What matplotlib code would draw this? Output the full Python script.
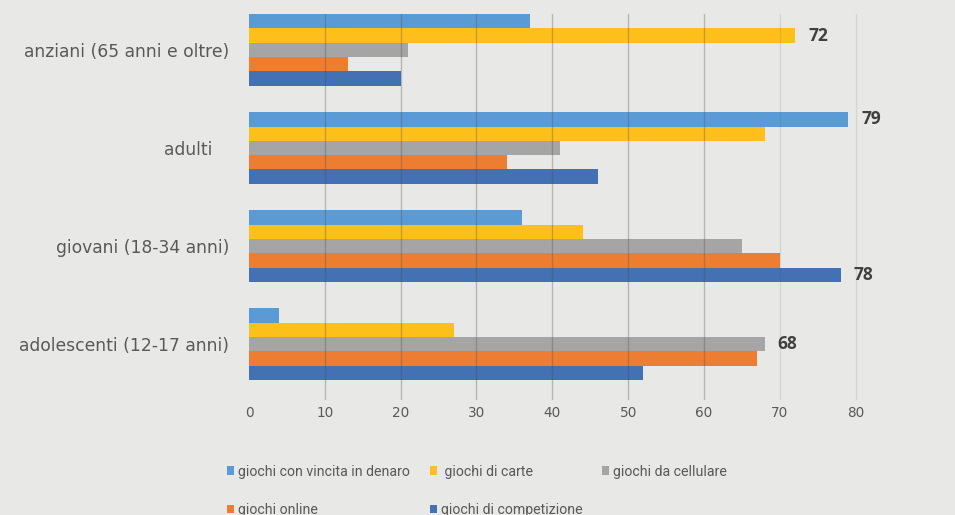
import numpy as np
import matplotlib
matplotlib.use("Agg")
import matplotlib.pyplot as plt

# categories, bottom to top
categories = ["adolescenti (12-17 anni)", "giovani (18-34 anni)", "adulti   ", "anziani (65 anni e oltre)"]

# series, in legend order (drawn top to bottom inside each group)
series_names = ["giochi con vincita in denaro", " giochi di carte", "giochi da cellulare",
                "giochi online", "giochi di competizione"]
vincita = [4, 36, 79, 37]
carte = [27, 44, 68, 72]
cellulare = [68, 65, 41, 21]
online = [67, 70, 34, 13]
competizione = [52, 78, 46, 20]
xticks = [0, 10, 20, 30, 40, 50, 60, 70, 80]

series = [vincita, carte, cellulare, online, competizione]
colors = ["#5b9bd5", "#fdc01a", "#a5a5a5", "#ed7d31", "#4470b4"]
bg = "#e8e9e6"

fig = plt.figure(figsize=(9.55, 5.15), dpi=100, facecolor=bg)
ax = fig.add_axes([0.2607, 0.2233, 0.675, 0.7495], facecolor=bg)

y = np.arange(len(categories))
h = 0.1458
offsets = [2 * h, h, 0, -h, -2 * h]
for vals, off, col, name in zip(series, offsets, colors, series_names):
    ax.barh(y + off, vals, height=h, color=col, label=name, zorder=2)

# label the largest bar of each group
data = np.array(series)
for i in range(len(categories)):
    j = int(np.argmax(data[:, i]))
    ax.annotate(str(data[j, i]), xy=(data[j, i], y[i] + offsets[j]), xytext=(9.5, 0),
                textcoords="offset points", va="center", ha="left",
                fontsize=12.5, fontweight="bold", color="#404040",
                family="Open Sans", zorder=4)

ax.set_xlim(0, 85)
ax.set_ylim(-0.569, 3.366)
ax.set_xticks(xticks)
ax.set_yticks(y)
ax.set_yticklabels(categories)
ax.tick_params(axis="y", length=0, pad=14.4, labelsize=12.3, labelcolor="#595959")
ax.tick_params(axis="x", length=0, pad=4, labelsize=9.8, labelcolor="#595959")
for lab in ax.get_yticklabels() + ax.get_xticklabels():
    lab.set_family("DejaVu Sans")
for s in ax.spines.values():
    s.set_visible(False)

ax.grid(axis="x", color="#505050", linewidth=1.0, zorder=3)
ax.set_axisbelow(False)
for t, gl in zip(xticks, ax.xaxis.get_gridlines()):
    if t == 0:
        gl.set_visible(False)
    elif t >= 70:
        gl.set_alpha(0.13)
    else:
        gl.set_alpha(0.33)

# legend is filled column by column, reorder so rows read in series order
handles, labels = ax.get_legend_handles_labels()
order = [0, 3, 1, 4, 2]
leg = fig.legend([handles[k] for k in order], [labels[k] for k in order],
                 loc="upper left", bbox_to_anchor=(0.238, 0.098),
                 ncol=3, frameon=False, handlelength=0.5,
                 handleheight=0.5, handletextpad=0.29, columnspacing=1.38,
                 labelspacing=1.71, borderaxespad=0, borderpad=0,
                 prop={"family": "Roboto", "size": 10.2})
for txt in leg.get_texts():
    txt.set_color("#595959")

fig.savefig("out.png", dpi=100, facecolor=bg)
